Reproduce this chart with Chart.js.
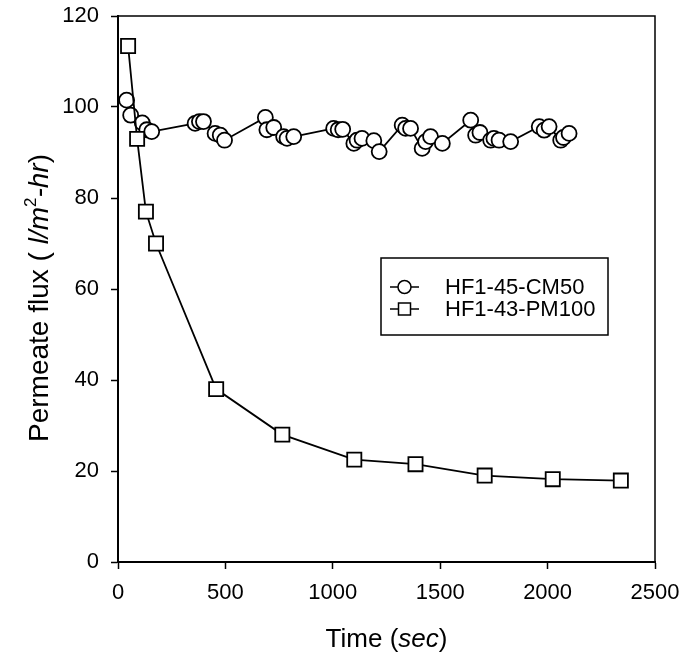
<!DOCTYPE html>
<html>
<head>
<meta charset="utf-8">
<script src="https://cdn.jsdelivr.net/npm/chart.js@4.4.0/dist/chart.umd.min.js"></script>
<style>
html, body { margin: 0; padding: 0; background: #fff; }
#wrap { width: 686px; height: 661px; }
</style>
</head>
<body>
<div id="wrap"><canvas id="fluxChart"></canvas></div>
<script>
// HF1-45-CM50 (circles)
const cmTime = [40, 59, 113, 134, 157, 359, 379, 398, 452, 476, 496, 686, 693, 725, 771, 787, 818,
    1004, 1025, 1046, 1098, 1113, 1136, 1191, 1216, 1323, 1339, 1362, 1416, 1432, 1455, 1510,
    1642, 1665, 1685, 1735, 1750, 1774, 1828, 1961, 1984, 2007, 2061, 2074, 2100];
const cmFlux = [101.5, 98.2, 96.5, 95, 94.6, 96.4, 96.8, 96.8, 94.2, 93.8, 92.7, 97.7, 95, 95.5, 93.5, 93.1, 93.5,
    95.3, 95, 95.1, 92, 92.7, 93.1, 92.6, 90.2, 96, 95.3, 95.3, 90.9, 92.4, 93.5, 92,
    97.1, 93.8, 94.4, 92.7, 93.1, 92.7, 92.4, 95.7, 94.9, 95.7, 92.7, 93.3, 94.2];

// HF1-43-PM100 (squares)
const pmTime = [47, 89, 130, 177, 457, 765, 1100, 1385, 1707, 2024, 2341];
const pmFlux = [113.4, 93, 77, 70, 38, 28, 22.5, 21.5, 19, 18.2, 17.9];

const xTicks = [0, 500, 1000, 1500, 2000, 2500];
const yTicks = [0, 20, 40, 60, 80, 100, 120];

const FONT = '"Liberation Sans", Arial, sans-serif';
const toPoints = (xs, ys) => xs.map((x, i) => ({ x: x, y: ys[i] }));

// top + right frame, axis titles and the boxed legend
const extras = {
    id: 'extras',
    afterDraw(chart) {
        const ctx = chart.ctx;
        const a = chart.chartArea;
        ctx.save();
        ctx.strokeStyle = '#000';
        ctx.lineWidth = 1.5;
        ctx.beginPath();
        ctx.moveTo(a.left, a.top);
        ctx.lineTo(a.right, a.top);
        ctx.lineTo(a.right, a.bottom);
        ctx.stroke();

        ctx.fillStyle = '#000';
        ctx.textBaseline = 'alphabetic';

        // x title: Time (sec)
        const xParts = [['Time (', 'normal'], ['sec', 'italic'], [')', 'normal']];
        let w = 0;
        xParts.forEach(p => { ctx.font = p[1] + ' 26px ' + FONT; w += ctx.measureText(p[0]).width; });
        let x = (a.left + a.right) / 2 - w / 2;
        xParts.forEach(p => {
            ctx.font = p[1] + ' 26px ' + FONT;
            ctx.fillText(p[0], x, 647);
            x += ctx.measureText(p[0]).width;
        });

        // y title: Permeate flux ( l/m2-hr)
        const yParts = [['Permeate flux ( ', 'normal', 28, 0], ['l/m', 'italic', 28, 0], ['2', 'normal', 17, -12],
            ['-hr', 'italic', 28, 0], [')', 'normal', 28, 0]];
        w = 0;
        yParts.forEach(p => { ctx.font = p[1] + ' ' + p[2] + 'px ' + FONT; w += ctx.measureText(p[0]).width; });
        ctx.translate(48, 298);
        ctx.rotate(-Math.PI / 2);
        x = -w / 2;
        yParts.forEach(p => {
            ctx.font = p[1] + ' ' + p[2] + 'px ' + FONT;
            ctx.fillText(p[0], x, p[3]);
            x += ctx.measureText(p[0]).width;
        });
        ctx.restore();

        // legend
        ctx.save();
        ctx.strokeStyle = '#000';
        ctx.lineWidth = 1.5;
        ctx.strokeRect(381, 258, 227, 77);
        ctx.font = '22px ' + FONT;
        ctx.textBaseline = 'middle';
        ctx.fillStyle = '#000';
        chart.data.datasets.forEach((ds, i) => {
            const yy = 287 + i * 22;
            ctx.beginPath();
            ctx.moveTo(390, yy);
            ctx.lineTo(419, yy);
            ctx.stroke();
            ctx.fillStyle = '#fff';
            ctx.beginPath();
            if (ds.pointStyle === 'rect') {
                ctx.rect(398.5, yy - 6, 12, 12);
            } else {
                ctx.arc(404.5, yy, 6.5, 0, Math.PI * 2);
            }
            ctx.fill();
            ctx.stroke();
            ctx.fillStyle = '#000';
            ctx.fillText(ds.label, 445, yy + 1);
        });
        ctx.restore();
    }
};

const fluxCtx = document.getElementById('fluxChart').getContext('2d');
new Chart(fluxCtx, {
    type: 'line',
    data: {
        datasets: [
            {
                label: 'HF1-45-CM50',
                data: toPoints(cmTime, cmFlux),
                borderColor: '#000',
                borderWidth: 1.8,
                pointStyle: 'circle',
                pointRadius: 7.5,
                pointBackgroundColor: '#fff',
                pointBorderColor: '#000',
                pointBorderWidth: 1.8,
                tension: 0,
                order: 1
            },
            {
                label: 'HF1-43-PM100',
                data: toPoints(pmTime, pmFlux),
                borderColor: '#000',
                borderWidth: 1.8,
                pointStyle: 'rect',
                pointRadius: 10,
                pointBackgroundColor: '#fff',
                pointBorderColor: '#000',
                pointBorderWidth: 1.8,
                tension: 0,
                order: 0
            }
        ]
    },
    options: {
        responsive: true,
        maintainAspectRatio: false,
        animation: false,
        layout: { padding: { top: 16, right: 31 } },
        plugins: { legend: { display: false }, tooltip: { enabled: false } },
        scales: {
            x: {
                type: 'linear',
                min: 0,
                max: 2500,
                afterFit: s => { s.height = 99; s.paddingLeft = 0; s.paddingRight = 0; },
                afterBuildTicks: s => { s.ticks = xTicks.map(v => ({ value: v })); },
                grid: { drawOnChartArea: false, color: '#000', tickLength: 7, tickWidth: 1.5 },
                border: { color: '#000', width: 2 },
                ticks: { color: '#000', font: { family: FONT, size: 22 }, padding: 11, maxRotation: 0,
                    callback: v => String(v) }
            },
            y: {
                min: 0,
                max: 120,
                afterFit: s => { s.width = 118; s.paddingTop = 0; s.paddingBottom = 0; },
                afterBuildTicks: s => { s.ticks = yTicks.map(v => ({ value: v })); },
                grid: { drawOnChartArea: false, color: '#000', tickLength: 7, tickWidth: 1.5 },
                border: { color: '#000', width: 2 },
                ticks: { color: '#000', font: { family: FONT, size: 22 }, padding: 12,
                    callback: v => String(v) }
            }
        }
    },
    plugins: [extras]
});
</script>
</body>
</html>
